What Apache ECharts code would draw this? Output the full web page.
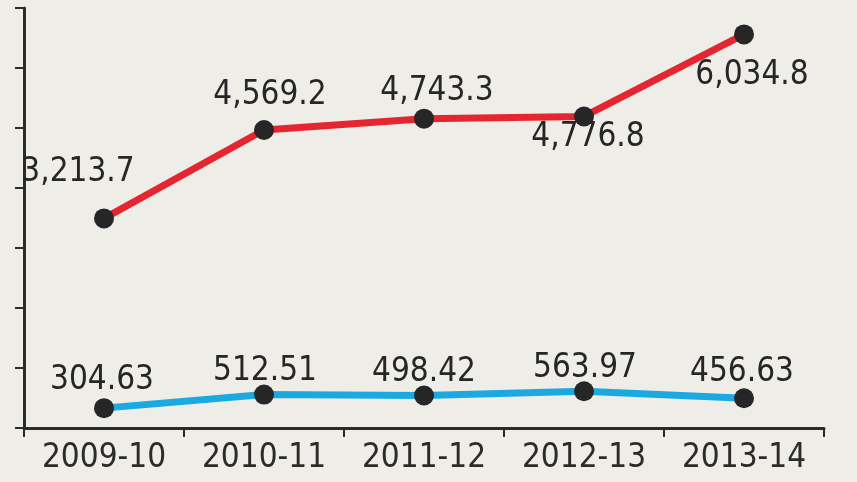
<!DOCTYPE html>
<html><head><meta charset="utf-8">
<script src="https://cdn.jsdelivr.net/npm/echarts@6/dist/echarts.min.js"></script>
<style>html,body{margin:0;padding:0;background:#efede8;}#c{width:857px;height:482px;}</style>
</head><body><div id="c"></div>
<script>
const categories = ['2009-10','2010-11','2011-12','2012-13','2013-14'];
const redValues = [3213.7, 4569.2, 4743.3, 4776.8, 6034.8];
const blueValues = [304.63, 512.51, 498.42, 563.97, 456.63];
const yInterval = 920;
const yMax = 6440;

const redOffsets = [[-26,-46],[6,-35],[13,-27],[4,21],[8,41]];
const blueOffsets = [[-2,-28],[1,-23],[0,-23],[1,-23],[-2,-26]];

function fmt(v, d){ return v.toLocaleString('en-US',{minimumFractionDigits:d, maximumFractionDigits:d}); }
const font = '"DejaVu Sans Condensed", "DejaVu Sans", sans-serif';
function build(vals, offs, d){
  return vals.map((v,i)=>({value:v, label:{show:true, position:'inside', offset:offs[i], formatter:fmt(v,d)}}));
}
const chart = echarts.init(document.getElementById('c'), null, {renderer:'canvas'});
chart.setOption({
  backgroundColor:'#efede8',
  animation:false,
  grid:{left:24, right:33, top:8, bottom:54, containLabel:false},
  xAxis:{type:'category', data:categories, boundaryGap:true,
    axisLine:{lineStyle:{color:'#2b2b2b', width:3}},
    axisTick:{show:true, inside:false, length:9, interval:0, lineStyle:{color:'#2b2b2b', width:2}},
    axisLabel:{color:'#2b2b2b', fontFamily:font, fontSize:33, margin:14, interval:0}},
  yAxis:{type:'value', min:0, max:yMax, interval:yInterval,
    axisLine:{show:true, lineStyle:{color:'#2b2b2b', width:3}},
    axisTick:{show:true, length:9, lineStyle:{color:'#2b2b2b', width:2}},
    axisLabel:{show:false}, splitLine:{show:false}},
  series:[
    {type:'line', data:build(redValues, redOffsets, 1), symbol:'circle', symbolSize:20,
     lineStyle:{color:'#e52630', width:7}, itemStyle:{color:'#262626'},
     label:{color:'#262626', fontFamily:font, fontSize:33}, z:3},
    {type:'line', data:build(blueValues, blueOffsets, 2), symbol:'circle', symbolSize:20,
     lineStyle:{color:'#1aa9e1', width:7}, itemStyle:{color:'#262626'},
     label:{color:'#262626', fontFamily:font, fontSize:33}, z:3}
  ]
});
</script></body></html>
